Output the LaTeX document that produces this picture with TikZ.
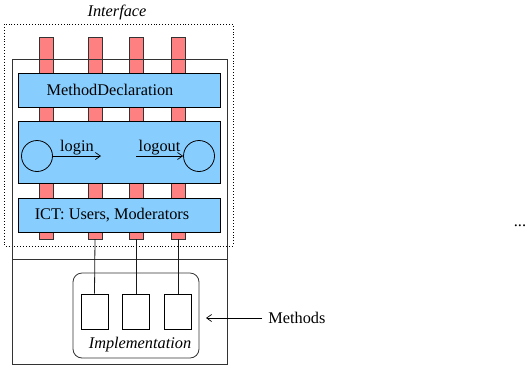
\documentclass[tikz,border=0pt]{standalone}
\usepackage{fontspec}
\setmainfont{Liberation Serif}
\usetikzlibrary{arrows.meta}
\definecolor{barred}{RGB}{255,128,128}
\definecolor{boxblue}{RGB}{135,206,255}
\begin{document}
\begin{tikzpicture}[x=1pt,y=-1pt,line width=0.8pt,
  every node/.style={font=\fontsize{16.3}{19}\selectfont},
  bar/.style={draw=black!80,fill=barred},
  bluebox/.style={draw=black,fill=boxblue},
  frame/.style={draw=black!80},
  wire/.style={draw=black!90},
  dotframe/.style={draw=black,dotted,line width=0.9pt},
  slot/.style={draw=black,fill=white,minimum width=27pt,minimum height=35pt,inner sep=0pt},
  state/.style={draw=black,circle,minimum size=31pt,inner sep=0pt},
  arr/.style={-{Straight Barb[length=5pt,width=7pt]},line width=0.7pt},
  lbl/.style={inner sep=1pt}]
\useasboundingbox (0,0) rectangle (530,365);
% dotted interface frame
\draw[dotframe] (4.5,24) rectangle (233,246);
\node[font=\fontsize{16.3}{19}\selectfont\itshape] (iface) at (117,12) {Interface};
% red bars
\foreach \x/\n in {46/b1,95/b2,136/b3,178/b4}{
  \draw[bar] (\x-7,37.5) rectangle (\x+7,239);
  \coordinate (\n) at (\x,239);
}
% outer frame
\draw[frame] (12,59) rectangle (227,364);
\draw[frame] (12,259.5) -- (227,259.5);
% blue boxes
\node[bluebox,minimum width=202pt,minimum height=34pt,inner sep=0pt] (md) at (119,90) {};
\node (mdt) at (110,90) {MethodDeclaration};
\node[bluebox,minimum width=202pt,minimum height=62pt,inner sep=0pt] (ev) at (119,152) {};
\node[bluebox,minimum width=202pt,minimum height=34pt,inner sep=0pt] (ict) at (119,215) {};
\node (ictt) at (112,215) {ICT: Users, Moderators};
% circles and arrows
\node[state] (s1) at (37,156) {};
\node[state] (s2) at (199,156) {};
\coordinate (la) at (101,156);
\coordinate (lo) at (136,156);
\draw[arr] (s1) -- (la) node[midway,above,lbl] (login) {login};
\draw[arr] (lo) -- (s2) node[midway,above,lbl] (logout) {logout};
% implementation
\draw[frame,rounded corners=9pt] (73,273) rectangle (199,358);
\node[slot] (m1) at (94.5,311.5) {};
\node[slot] (m2) at (136,311.5) {};
\node[slot] (m3) at (178,311.5) {};
\draw[wire] (b2) -- (m1.north);
\draw[wire] (b3) -- (m2.north);
\draw[wire] (b4) -- (m3.north);
\node[font=\fontsize{16.3}{19}\selectfont\itshape] (impl) at (140,345) {Implementation};
% methods
\node[anchor=west,inner sep=0pt] (meth) at (268,318) {Methods};
\coordinate (mt) at (206,318);
\draw[arr,shorten <=6pt] (meth.west) -- (mt);
\node (dots) at (520,226) {...};
\end{tikzpicture}
\end{document}
